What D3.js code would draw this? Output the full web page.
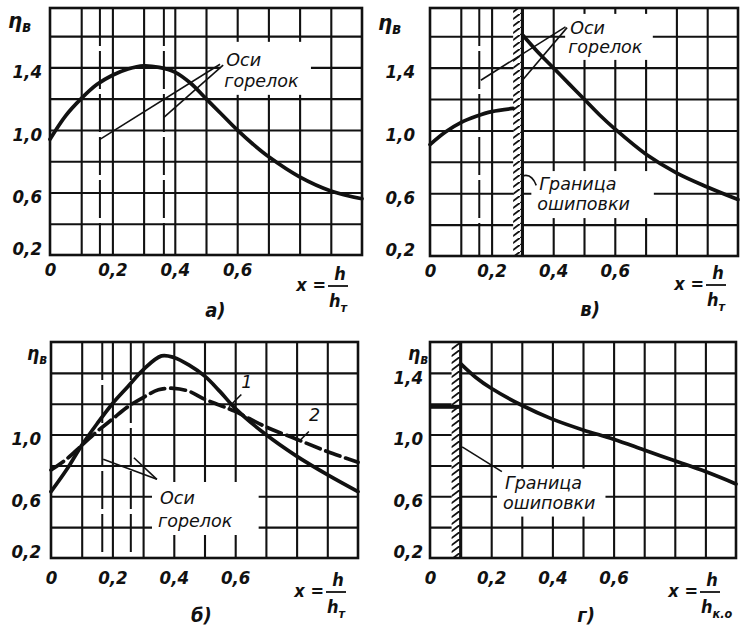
<!DOCTYPE html>
<html><head><meta charset="utf-8">
<script src="https://cdn.jsdelivr.net/npm/d3@7"></script>
<style>
body{margin:0;background:#fff;}
svg{display:block;}
.tk text{font-family:"DejaVu Sans Condensed","DejaVu Sans",sans-serif;font-style:oblique;font-weight:bold;font-size:18.5px;fill:#111;}
.lbl{font-family:"DejaVu Sans","Noto Sans",sans-serif;font-style:oblique;font-size:17.5px;fill:#111;}
.ttl{font-family:"DejaVu Sans Condensed","DejaVu Sans",sans-serif;font-style:oblique;font-weight:bold;fill:#111;}
</style></head><body>
<svg id="c" width="756" height="630"></svg>
<script>
// ---------- data ----------
const xGrid = [0.1,0.2,0.3,0.4,0.5,0.6,0.7,0.8,0.9];
const yGridTop = [0.4,0.6,0.8,1.0,1.2,1.4,1.6];
const yGridBottom = [0.4,0.6,0.8,1.0,1.2,1.4];
const xTickValues = [0,0.2,0.4,0.6];
const xTickLabels = ["0","0,2","0,4","0,6"];
const yTickValues4 = [0.2,0.6,1.0,1.4];
const yTickLabels4 = ["0,2","0,6","1,0","1,4"];
const yTickValues3 = [0.2,0.6,1.0];
const yTickLabels3 = ["0,2","0,6","1,0"];

// panel а)
const aX = [0,0.05,0.1,0.15,0.2,0.25,0.3,0.35,0.4,0.45,0.5,0.55,0.6,0.65,0.7,0.8,0.9,1.0];
const aY = [0.94,1.09,1.20,1.29,1.35,1.39,1.41,1.40,1.37,1.30,1.20,1.10,1.00,0.91,0.83,0.70,0.61,0.56];
const aBurners = [0.16,0.365];

// panel в)
const vLeftX = [0,0.05,0.1,0.15,0.2,0.27];
const vLeftY = [0.91,0.99,1.05,1.09,1.12,1.14];
const vRightX = [0.3,0.35,0.4,0.45,0.5,0.55,0.6,0.7,0.8,0.9,1.0];
const vRightY = [1.61,1.50,1.40,1.30,1.20,1.10,1.01,0.85,0.73,0.64,0.56];
const vBurner = [0.16];
const vBand = [0.27,0.30];

// panel б)
const bX = [0,0.05,0.1,0.15,0.2,0.25,0.3,0.36,0.4,0.45,0.5,0.55,0.6,0.7,0.8,0.9,1.0];
const b1Y = [0.63,0.77,0.93,1.07,1.20,1.31,1.42,1.51,1.50,1.45,1.38,1.28,1.17,1.00,0.86,0.74,0.63];
const b2X = [0,0.05,0.1,0.15,0.2,0.25,0.3,0.35,0.4,0.45,0.5,0.55,0.6,0.7,0.8,0.9,1.0];
const b2Y = [0.77,0.84,0.93,1.02,1.10,1.18,1.24,1.29,1.30,1.28,1.23,1.19,1.15,1.05,0.97,0.89,0.82];
const bBurners = [0.167,0.26];

// panel г)
const gX = [0.1,0.15,0.2,0.3,0.4,0.5,0.6,0.7,0.8,0.9,1.0];
const gY = [1.46,1.37,1.30,1.19,1.10,1.03,0.97,0.90,0.83,0.76,0.68];
const gLeftX = [0,0.1];
const gLeftY = [1.18,1.18];
const gBoundary = 0.1;

// ---------- drawing ----------
const INK = "#111";
const svg = d3.select("#c");
const defs = svg.append("defs");
defs.append("pattern").attr("id","hatch").attr("patternUnits","userSpaceOnUse")
  .attr("width",10).attr("height",7)
  .append("path").attr("d","M-1,8 L11,-1").attr("stroke",INK).attr("stroke-width",1.8);

function panel(cfg){
  const g = svg.append("g");
  const L=cfg.left, T=cfg.top, W=cfg.width, H=cfg.height, B=T+H, R=L+W;
  const x = d3.scaleLinear().domain([0,1]).range([L,R]);
  const y = d3.scaleLinear().domain([0.2,cfg.yMax]).range([B,T]);
  g.append("rect").attr("x",L).attr("y",T).attr("width",W).attr("height",H).attr("fill","#fff");
  const gx = g.append("g").attr("transform",`translate(0,${B})`)
    .call(d3.axisBottom(x).tickValues(xGrid).tickSize(-H).tickFormat(""));
  gx.select(".domain").remove();
  gx.selectAll("line").attr("stroke",INK).attr("stroke-width",2.1);
  const gy = g.append("g").attr("transform",`translate(${L},0)`)
    .call(d3.axisLeft(y).tickValues(cfg.yGrid).tickSize(-W).tickFormat(""));
  gy.select(".domain").remove();
  gy.selectAll("line").attr("stroke",INK).attr("stroke-width",2.1);
  // x tick labels
  const tx = g.append("g").attr("class","tk").attr("transform",`translate(0,${B})`)
    .call(d3.axisBottom(x).tickValues(xTickValues).tickSize(0).tickPadding(cfg.xLabOff)
      .tickFormat((d,i)=>xTickLabels[i]));
  tx.select(".domain").remove();
  tx.selectAll("text").attr("font-size",null);
  // y tick labels
  const ty = g.append("g").attr("class","tk").attr("transform",`translate(${L},0)`)
    .call(d3.axisLeft(y).tickValues(cfg.yTicks).tickSize(0).tickPadding(cfg.yLabOff)
      .tickFormat((d,i)=>cfg.yLabels[i]));
  ty.select(".domain").remove();
  ty.selectAll("text").attr("font-size",null).attr("dy",d=> d===0.2 ? "-0.05em" : "0.55em");
  // eta label
  const et = g.append("text").attr("class","ttl").attr("x",L+cfg.etaDx).attr("y",T+cfg.etaDy)
    .attr("font-size",cfg.etaSize);
  et.append("tspan").text("η");
  et.append("tspan").attr("dy",4).attr("font-size",cfg.etaSize*0.72).text("в");
  // x title with fraction
  const t = g.append("g").attr("class","ttl").attr("font-size",18);
  const fc = R - cfg.fracDx;
  const bar = B + cfg.barDy;
  t.append("text").attr("x",fc-12).attr("y",bar+5).attr("text-anchor","end").text("x =");
  t.append("text").attr("x",fc+2).attr("y",bar-6).attr("text-anchor","middle").text("h");
  t.append("line").attr("x1",fc-10).attr("x2",fc+10).attr("y1",bar).attr("y2",bar)
    .attr("stroke",INK).attr("stroke-width",1.8);
  const bt = t.append("text").attr("x",fc-9).attr("y",bar+21);
  bt.append("tspan").text("h");
  bt.append("tspan").attr("dy",5).attr("font-size",12.5).text(cfg.sub);
  // caption
  g.append("text").attr("class","ttl").attr("font-size",20).attr("text-anchor","middle")
    .attr("x",L+cfg.capX*W).attr("y",B+cfg.capDy).text(cfg.cap);
  return {g,x,y,L,T,W,H,B,R};
}
function frame(p){
  p.g.append("rect").attr("x",p.L).attr("y",p.T).attr("width",p.W).attr("height",p.H)
    .attr("fill","none").attr("stroke",INK).attr("stroke-width",2.6);
}
function curve(p,xs,ys,dash){
  const line = d3.line().x(d=>p.x(d[0])).y(d=>p.y(d[1])).curve(d3.curveCatmullRom.alpha(0.5));
  p.g.append("path").datum(xs.map((v,i)=>[v,ys[i]])).attr("d",line)
    .attr("fill","none").attr("stroke",INK).attr("stroke-width",3.7)
    .attr("stroke-linecap","round")
    .attr("stroke-dasharray",dash?"15,6":null);
}
function burner(p,v){
  p.g.append("line").attr("x1",p.x(v)).attr("x2",p.x(v)).attr("y1",p.T).attr("y2",p.B)
    .attr("stroke",INK).attr("stroke-width",2).attr("stroke-dasharray","38,5");
}
function note(p,lines,x0,y0,lh,pad){
  const grp = p.g.append("g");
  const rect = grp.append("rect").attr("fill","#fff");
  const txs = lines.map((s,i)=>grp.append("text").attr("class","lbl")
    .attr("x",x0+(i?-2:0)).attr("y",y0+i*lh).text(s));
  const bbs = txs.map(t=>t.node().getBBox());
  const x1=d3.min(bbs,b=>b.x), y1=d3.min(bbs,b=>b.y),
        x2=d3.max(bbs,b=>b.x+b.width), y2=d3.max(bbs,b=>b.y+b.height);
  rect.attr("x",x1-pad[0]).attr("y",y1-pad[1]).attr("width",x2-x1+pad[0]+pad[2])
    .attr("height",y2-y1+pad[1]+pad[3]);
}
function leader(p,x1,y1,x2,y2){
  p.g.append("line").attr("x1",p.x(x1)).attr("y1",p.y(y1)).attr("x2",p.x(x2)).attr("y2",p.y(y2))
    .attr("stroke",INK).attr("stroke-width",1.6);
}

// ----- а) -----
const pa = panel({left:50,top:8,width:312,height:247,yMax:1.78,yGrid:yGridTop,
  yTicks:yTickValues4,yLabels:yTickLabels4,xLabOff:8,yLabOff:8,
  etaDx:-42,etaDy:20,etaSize:22,fracDx:24,barDy:31,capX:0.53,capDy:62,cap:"а)",sub:"т"});
aBurners.forEach(v=>burner(pa,v));
note(pa,["Оси","горелок"],pa.x(0.565),pa.y(1.41),21,[4,8,12,4]);
leader(pa,0.545,1.42,0.16,0.94);
leader(pa,0.555,1.415,0.365,1.08);
curve(pa,aX,aY);
frame(pa);

// ----- в) -----
const pv = panel({left:430,top:8,width:308,height:248,yMax:1.78,yGrid:yGridTop,
  yTicks:yTickValues4,yLabels:yTickLabels4,xLabOff:8,yLabOff:15,
  etaDx:-52,etaDy:22,etaSize:22,fracDx:22,barDy:29,capX:0.52,capDy:60,cap:"в)",sub:"т"});
vBurner.forEach(v=>burner(pv,v));
pv.g.append("rect").attr("x",pv.x(vBand[0])).attr("y",pv.T).attr("width",pv.x(vBand[1])-pv.x(vBand[0]))
  .attr("height",pv.H).attr("fill","#fff");
pv.g.append("rect").attr("x",pv.x(vBand[0])).attr("y",pv.T).attr("width",pv.x(vBand[1])-pv.x(vBand[0]))
  .attr("height",pv.H).attr("fill","url(#hatch)");
pv.g.append("line").attr("x1",pv.x(vBand[1])).attr("x2",pv.x(vBand[1])).attr("y1",pv.T).attr("y2",pv.B)
  .attr("stroke",INK).attr("stroke-width",3);
note(pv,["Оси","горелок"],pv.x(0.455),pv.y(1.615),19,[3,4,10,3]);
leader(pv,0.44,1.66,0.165,1.32);
leader(pv,0.445,1.655,0.3,1.32);
note(pv,["Граница","ошиповки"],pv.x(0.355),pv.y(0.62),20,[6,3,24,4]);
pv.g.append("path").attr("d",`M${pv.x(0.3)},${pv.y(0.71)} Q${pv.x(0.33)},${pv.y(0.73)} ${pv.x(0.345)},${pv.y(0.65)}`)
  .attr("fill","none").attr("stroke",INK).attr("stroke-width",1.6);
curve(pv,vLeftX,vLeftY);
curve(pv,vRightX,vRightY);
frame(pv);

// ----- б) -----
const pb = panel({left:51,top:342,width:307,height:216,yMax:1.6,yGrid:yGridBottom,
  yTicks:yTickValues3,yLabels:yTickLabels3,xLabOff:13,yLabOff:10,
  etaDx:-24,etaDy:18,etaSize:19,fracDx:22,barDy:34,capX:0.49,capDy:64,cap:"б)",sub:"т"});
bBurners.forEach(v=>burner(pb,v));
note(pb,["Оси","горелок"],pb.x(0.355),pb.y(0.55),23,[6,6,26,4]);
leader(pb,0.345,0.71,0.17,0.84);
leader(pb,0.345,0.71,0.27,0.85);
curve(pb,b2X,b2Y,true);
curve(pb,bX,b1Y);
pb.g.append("text").attr("class","lbl").attr("x",pb.x(0.62)).attr("y",pb.y(1.3)).text("1");
leader(pb,0.62,1.26,0.58,1.18);
pb.g.append("text").attr("class","lbl").attr("x",pb.x(0.84)).attr("y",pb.y(1.09)).text("2");
leader(pb,0.84,1.02,0.81,0.96);
frame(pb);

// ----- г) -----
const pg = panel({left:430,top:342,width:306,height:216,yMax:1.6,yGrid:yGridBottom,
  yTicks:yTickValues4,yLabels:yTickLabels4,xLabOff:13,yLabOff:7,
  etaDx:-22,etaDy:18,etaSize:19,fracDx:26,barDy:34,capX:0.51,capDy:64,cap:"г)",sub:"к.о"});
pg.g.append("rect").attr("x",pg.x(gBoundary)-9).attr("y",pg.T).attr("width",9).attr("height",pg.H)
  .attr("fill","#fff");
pg.g.append("rect").attr("x",pg.x(gBoundary)-9).attr("y",pg.T).attr("width",9).attr("height",pg.H)
  .attr("fill","url(#hatch)");
pg.g.append("line").attr("x1",pg.x(gBoundary)).attr("x2",pg.x(gBoundary)).attr("y1",pg.T).attr("y2",pg.B)
  .attr("stroke",INK).attr("stroke-width",3);
note(pg,["Граница","ошиповки"],pg.x(0.245),pg.y(0.65),20,[6,4,10,4]);
leader(pg,0.235,0.76,0.105,0.92);
pg.g.append("path").datum(gLeftX.map((v,i)=>[v,gLeftY[i]]))
  .attr("d",d3.line().x(d=>pg.x(d[0])).y(d=>pg.y(d[1])))
  .attr("fill","none").attr("stroke",INK).attr("stroke-width",4);
curve(pg,gX,gY);
frame(pg);
</script>
</body></html>
